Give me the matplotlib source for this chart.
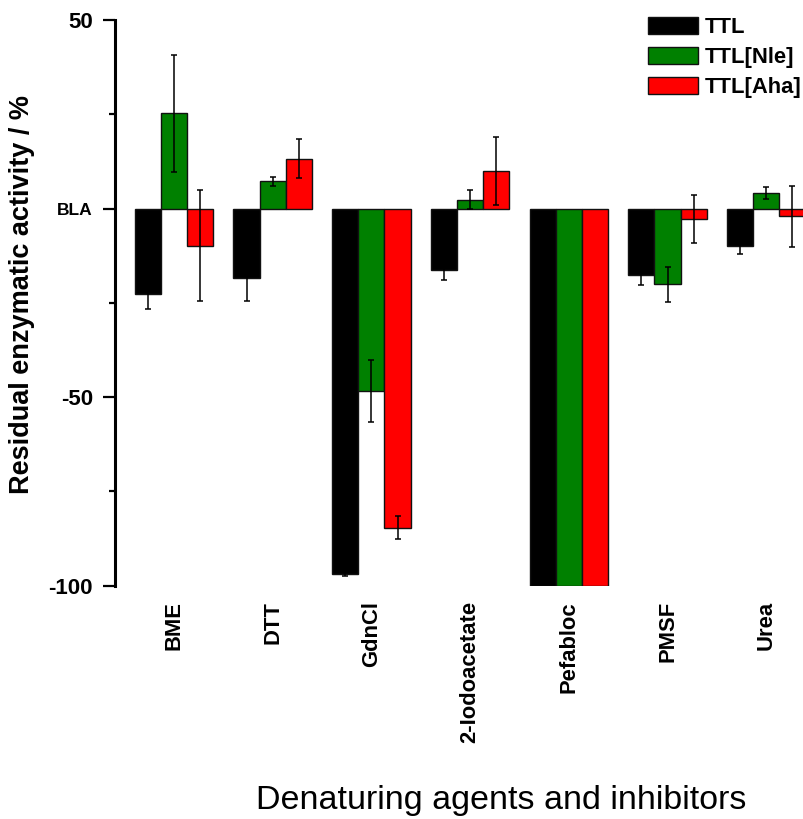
import numpy as np
import matplotlib
matplotlib.use("Agg")
import matplotlib.pyplot as plt
from matplotlib.ticker import FixedLocator

plt.rcParams['font.family'] = ['Liberation Sans', 'DejaVu Sans']

### Data
agents = ["BME", "DTT", "GdnCl", "2-Iodoacetate", "Pefabloc", "PMSF", "Urea"]
series = ["TTL", "TTL[Nle]", "TTL[Aha]"]
colors = ["#000000", "#008000", "#ff0000"]

ttl = [-22.6, -18.4, -96.8, -16.4, -100.0, -17.5, -9.8]
ttl_err = [4.0, 6.1, 0.5, 2.6, np.nan, 2.7, 2.2]
nle = [25.3, 7.2, -48.4, 2.4, -100.0, -20.1, 4.1]
nle_err = [15.5, 1.2, 8.3, 2.4, np.nan, 4.6, 1.6]
aha = [-9.8, 13.2, -84.6, 9.9, -100.0, -2.7, -2.1]
aha_err = [14.7, 5.2, 3.1, 9.0, np.nan, 6.4, 8.0]

values = [ttl, nle, aha]
errors = [ttl_err, nle_err, aha_err]

fig = plt.figure(figsize=(8.04, 8.19), dpi=100)
ax = fig.add_axes([115 / 804, 1 - 585.7 / 819, 689 / 804, (585.7 - 20) / 819])

x = np.arange(len(agents))
width = 0.265
for i, (vals, errs) in enumerate(zip(values, errors)):
    ax.bar(x + (i - 1) * width, vals, width, color=colors[i],
           edgecolor="#111111", linewidth=1.0, label=series[i], zorder=2)
    ax.errorbar(x + (i - 1) * width, vals, yerr=errs, fmt="none",
                ecolor="black", elinewidth=1.1, capsize=2.2, capthick=1.1,
                zorder=3)

ax.set_xlim(-0.598, 6.383)
ax.set_ylim(-100, 50)

for s in ["top", "right", "bottom"]:
    ax.spines[s].set_visible(False)
ax.spines["left"].set_linewidth(2.2)

ax.yaxis.set_major_locator(FixedLocator([-100, -50, 0, 50]))
ax.yaxis.set_minor_locator(FixedLocator([-75, -25, 25]))
ax.set_yticklabels(["-100", "-50", "BLA", "50"])
ax.tick_params(axis="y", which="major", length=9, width=1.6, pad=7,
               labelsize=16)
ax.tick_params(axis="y", which="minor", length=4.5, width=1.6)
for lab in ax.get_yticklabels():
    lab.set_fontweight("bold")
    if lab.get_text() == "BLA":
        lab.set_fontsize(12.5)

ax.set_xticks(x)
ax.set_xticklabels(agents, rotation=90, fontsize=15.8, fontweight="bold")
ax.tick_params(axis="x", length=0, pad=11)

ax.set_ylabel("Residual enzymatic activity / %", fontsize=19.5,
              fontweight="bold")
ax.yaxis.set_label_coords(-0.116, 0.514)
fig.text(501 / 804, 1 - 801 / 819, "Denaturing agents and inhibitors",
         fontsize=24.5, ha="center", va="center")

leg = ax.legend(loc="upper right", bbox_to_anchor=(1.0, 1.01), frameon=False,
                prop={"size": 15.8, "weight": "bold"}, handlelength=2.3,
                handleheight=0.82, handletextpad=0.3, labelspacing=0.42,
                borderaxespad=0.0, borderpad=0.1)

fig.savefig("out.png", dpi=100)
